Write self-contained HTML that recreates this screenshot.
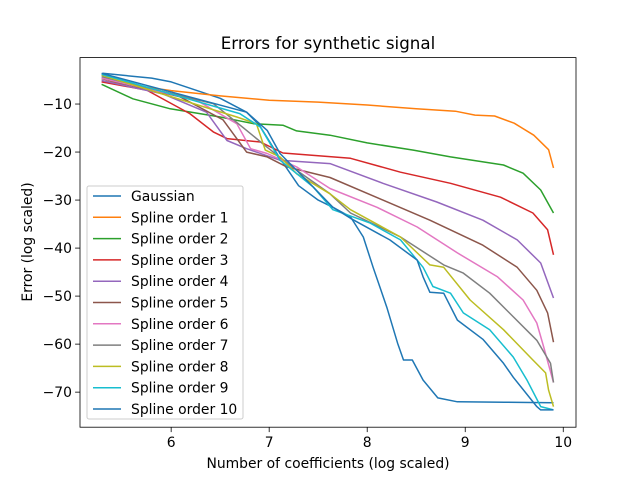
<!DOCTYPE html>
<html><head><meta charset="utf-8"><style>
body{margin:0;background:#fff;font-family:"DejaVu Sans","Liberation Sans",sans-serif}
svg text{font-family:"DejaVu Sans","Liberation Sans",sans-serif}
</style></head><body>
<svg id="c" width="640" height="480" xmlns="http://www.w3.org/2000/svg"></svg>
<script>
const seriesNames=["Gaussian","Spline order 1","Spline order 2","Spline order 3","Spline order 4","Spline order 5","Spline order 6","Spline order 7","Spline order 8","Spline order 9","Spline order 10"];
const xTicks=[6,7,8,9,10];
const yTicks=[-10,-20,-30,-40,-50,-60,-70];
const sGauss=[[5.3,-3.6],[5.8,-4.6],[6,-5.4],[6.5,-8.8],[6.77,-11.7],[6.9,-14.4],[7.1,-21],[7.3,-27],[7.5,-30],[7.65,-31.5],[7.83,-33.5],[7.96,-37.7],[8.06,-44],[8.2,-52.3],[8.31,-59.8],[8.37,-63.3],[8.46,-63.3],[8.57,-67.5],[8.72,-71.2],[8.92,-72],[9.4,-72.1],[9.9,-72.2]];
const s1=[[5.3,-5.2],[6,-7.2],[6.5,-8.3],[7,-9.2],[7.5,-9.6],[8,-10.2],[8.5,-11],[8.9,-11.5],[9.1,-12.3],[9.3,-12.5],[9.5,-14],[9.7,-16.5],[9.85,-19.5],[9.9,-23.3]];
const s2=[[5.29,-5.9],[5.61,-8.9],[5.99,-11],[6.5,-12.7],[6.84,-14.1],[7.14,-14.4],[7.28,-15.6],[7.62,-16.5],[8,-18.1],[8.47,-19.6],[8.85,-21],[9.39,-22.7],[9.59,-24.4],[9.77,-27.9],[9.9,-32.7]];
const s3=[[5.29,-5.4],[5.75,-7.1],[6.19,-12],[6.43,-15.8],[6.57,-17.2],[6.91,-17.9],[7.14,-20.2],[7.83,-21.3],[8.34,-24.2],[8.85,-26.5],[9.36,-29.4],[9.69,-32.7],[9.84,-36.2],[9.9,-41.4]];
const s4=[[5.29,-5.1],[5.92,-7.9],[6.36,-11.7],[6.57,-17.6],[6.77,-19.3],[7.11,-21.7],[7.62,-22.4],[8.16,-26.5],[8.71,-30.4],[9.18,-34.2],[9.53,-38.3],[9.77,-43.1],[9.9,-50.4]];
const s5=[[5.29,-4.7],[6.09,-8.5],[6.53,-13.3],[6.77,-20],[6.98,-21],[7.18,-23.1],[7.62,-25.3],[8.16,-30],[8.64,-34.2],[9.18,-39.4],[9.53,-44],[9.73,-48.8],[9.84,-53.5],[9.9,-59.6]];
const s6=[[5.29,-4.6],[6.26,-9.2],[6.67,-14.1],[6.81,-19.3],[6.98,-20.3],[7.28,-23.1],[7.62,-27.6],[8.1,-31.5],[8.51,-35.6],[8.92,-41],[9.33,-46],[9.59,-50.8],[9.73,-55.6],[9.8,-60.6],[9.9,-68]];
const s7=[[5.29,-4.3],[6.43,-9.9],[6.77,-15.5],[6.98,-19],[7.28,-23.8],[7.62,-28.7],[7.83,-32.7],[8.34,-37.7],[8.78,-43.5],[8.98,-45.2],[9.25,-49.4],[9.73,-59.2],[9.87,-64],[9.9,-68]];
const s8=[[5.29,-4],[6.67,-12.7],[6.87,-14.1],[6.96,-19.6],[7.11,-21],[7.28,-24.5],[7.62,-28.7],[7.83,-32],[8.34,-37.7],[8.64,-43.5],[8.78,-44],[9.05,-50.8],[9.39,-57],[9.69,-63.3],[9.82,-66],[9.85,-69.6],[9.9,-73]];
const s9=[[5.29,-3.8],[6.7,-12],[6.91,-14.8],[7.11,-21.7],[7.45,-27.3],[7.65,-32],[8.03,-34.8],[8.34,-38.3],[8.57,-44],[8.67,-48],[8.85,-49.4],[8.98,-53.5],[9.25,-57],[9.49,-62.7],[9.63,-67.5],[9.77,-73],[9.9,-73.7]];
const s10=[[5.29,-3.6],[6.77,-11.7],[6.98,-15.5],[7.11,-20.3],[7.45,-27.3],[7.65,-31.5],[7.83,-33.8],[8.23,-38.3],[8.51,-42.5],[8.57,-46],[8.64,-49.2],[8.78,-49.4],[8.92,-55],[9.18,-59],[9.39,-64],[9.49,-66.9],[9.73,-73],[9.77,-73.7],[9.9,-73.7]];
const allSeries=[sGauss,s1,s2,s3,s4,s5,s6,s7,s8,s9,s10];
const colors=["#1f77b4","#ff7f0e","#2ca02c","#d62728","#9467bd","#8c564b","#e377c2","#7f7f7f","#bcbd22","#17becf","#1f77b4"];
const L=80,R=576,T=57.6,B=427.2,X0=5.07,X1=10.13,Y0=-77.3,Y1=-0.33;
const sx=v=>L+(v-X0)/(X1-X0)*(R-L);
const sy=v=>B-(v-Y0)/(Y1-Y0)*(B-T);
const svg=document.getElementById('c');const NS="http://www.w3.org/2000/svg";
function mk(t,a,p){const e=document.createElementNS(NS,t);for(const k in a)e.setAttribute(k,a[k]);(p||svg).appendChild(e);return e;}
mk('rect',{x:0,y:0,width:640,height:480,fill:'#fff'});
const clip=mk('clipPath',{id:'cp'});mk('rect',{x:L,y:T,width:R-L,height:B-T},clip);
allSeries.forEach((s,i)=>{
 const p=mk('path',{d:s.map((q,j)=>(j?'L':'M')+sx(q[0]).toFixed(1)+' '+sy(q[1]).toFixed(1)).join(''),fill:'none',stroke:colors[i],'stroke-width':1.5,'stroke-linejoin':'round','clip-path':'url(#cp)'});
 
 
});
const fr=mk('rect',{x:L,y:T,width:R-L,height:B-T,fill:'none',stroke:'#000','stroke-width':0.8});


xTicks.forEach(v=>{const x=sx(v);mk('line',{x1:x,x2:x,y1:B,y2:B+4.9,stroke:'#000','stroke-width':0.8});
 const t=mk('text',{x:x,y:B+20,'text-anchor':'middle','font-size':13.9});t.textContent=v;
 
 });
yTicks.forEach(v=>{const y=sy(v);mk('line',{x1:L-4.9,x2:L,y1:y,y2:y,stroke:'#000','stroke-width':0.8});
 const t=mk('text',{x:L-8,y:y+5,'text-anchor':'end','font-size':13.9});t.textContent='\u2212'+Math.abs(v);
 
 });
let t=mk('text',{x:328,y:49,'text-anchor':'middle','font-size':16.7});t.textContent='Errors for synthetic signal';


t=mk('text',{x:328,y:468,'text-anchor':'middle','font-size':13.9});t.textContent='Number of coefficients (log scaled)';


t=mk('text',{x:0,y:0,'text-anchor':'middle','font-size':13.9,transform:'translate(32,242) rotate(-90)'});t.textContent='Error (log scaled)';


const lg=mk('g',{});


mk('rect',{x:87,y:186,width:156,height:233,rx:2,fill:'#fff','fill-opacity':0.8,stroke:'#ccc','stroke-width':1},lg);
seriesNames.forEach((n,i)=>{const y=196+i*21.3;
 const g=mk('g',{},lg);
 
 
 mk('line',{x1:93,x2:121,y1:y,y2:y,stroke:colors[i],'stroke-width':1.5},g);
 const tt=mk('text',{x:131,y:y+5,'font-size':13.9},g);tt.textContent=n;});
</script>
</body></html>
